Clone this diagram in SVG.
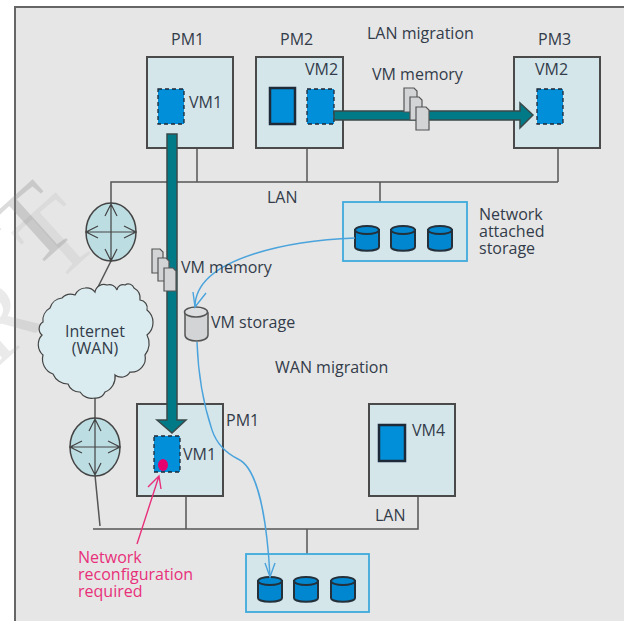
<svg xmlns="http://www.w3.org/2000/svg" width="624" height="621" viewBox="0 0 624 621">
<style>
text{font-family:"Open Sans","Noto Sans","Liberation Sans",sans-serif;font-size:16px;fill:#333c4a}
.box{fill:#d5e6eb;stroke:#4a4a4a;stroke-width:2}
.vm{fill:#008fd8;stroke:#1e2a38;stroke-width:1.3;stroke-dasharray:4 3}
.vms{fill:#008fd8;stroke:#1e2a38;stroke-width:2.5}
.ln{fill:none;stroke:#555;stroke-width:1.5}
.bl{fill:none;stroke:#4aa3dc;stroke-width:1.4}
.st{fill:#d5e6eb;stroke:#3fa9dc;stroke-width:1.8}
.dk{fill:#0087cf;stroke:#24303a;stroke-width:2}
.arrow{fill:#007a87;stroke:#3a4a4a;stroke-width:1.5}
.pg{fill:#d2d4d6;stroke:#555;stroke-width:1.2}
.rt{fill:#bcdde2;stroke:#444;stroke-width:1.5}
.ra{fill:none;stroke:#444;stroke-width:1.2}
.wm{font-family:"Liberation Serif",serif;font-size:105px;fill:#888;text-anchor:end}
.pk{fill:#e8307a}
</style>
<rect x="0" y="0" width="624" height="621" fill="#fff"/>
<rect x="15" y="7" width="620" height="630" fill="#e6e6e6" stroke="#666" stroke-width="2"/>
<text class="wm" style="fill-opacity:.3" transform="translate(80 229) rotate(-42)">T</text>
<text class="wm" style="fill-opacity:.12" transform="translate(103 242) rotate(-42)">T</text>
<text class="wm" style="fill-opacity:.18" transform="translate(48 322) rotate(-42)">R</text>

<g id="wires">
<path class="ln" d="M111 203V182H558M197 148V182M307 148V182M380 182V203M558 148V182"/>
<path class="ln" d="M111 261L96 291"/>
<path class="ln" d="M95 398V418M95 475L100 526"/>
<path class="ln" d="M93 529H418V496M186 496V529M307 529V554"/>
</g>

<g id="pm1-top"><rect class="box" x="147" y="57" width="86" height="91"/><rect class="vm" x="158" y="89" width="26" height="35"/><text x="171" y="45">PM1</text><text x="189" y="108">VM1</text></g>
<g id="pm2"><rect class="box" x="256" y="57" width="87" height="91"/><rect class="vms" x="270" y="88" width="25" height="36"/><rect class="vm" x="307" y="89" width="27" height="35"/><text x="280" y="45">PM2</text><text x="305" y="75">VM2</text></g>
<g id="pm3"><rect class="box" x="514" y="57" width="86" height="91"/><rect class="vm" x="537" y="89" width="26" height="35"/><text x="538" y="45">PM3</text><text x="535" y="75">VM2</text></g>
<g id="pm1-bottom"><rect class="box" x="137" y="404" width="86" height="92"/><rect class="vm" x="154" y="436" width="26" height="36"/><ellipse cx="163" cy="465" rx="5" ry="6" fill="#e6006e"/><text x="226" y="426">PM1</text><text x="183" y="460">VM1</text></g>
<g id="pm4"><rect class="box" x="369" y="404" width="86" height="92"/><rect class="vms" x="379" y="425" width="26" height="36"/><text x="412" y="436">VM4</text></g>

<g id="storage-top"><rect class="st" x="343" y="202" width="124" height="59"/>
<g id="d1"><path class="dk" d="M355 230V247C355 252 379 252 379 247V230Z"/><ellipse class="dk" cx="367" cy="230" rx="12" ry="4"/></g>
<g id="d2"><path class="dk" d="M391 230V247C391 252 415 252 415 247V230Z"/><ellipse class="dk" cx="403" cy="230" rx="12" ry="4"/></g>
<g id="d3"><path class="dk" d="M428 230V247C428 252 452 252 452 247V230Z"/><ellipse class="dk" cx="440" cy="230" rx="12" ry="4"/></g>
<text x="479" y="220">Network<tspan x="479" dy="17">attached</tspan><tspan x="479" dy="17">storage</tspan></text></g>

<g id="storage-bottom"><rect class="st" x="246" y="554" width="123" height="58"/>
<g id="d4"><path class="dk" d="M258 581V598C258 603 282 603 282 598V581Z"/><ellipse class="dk" cx="270" cy="581" rx="12" ry="4"/></g>
<g id="d5"><path class="dk" d="M294 581V598C294 603 318 603 318 598V581Z"/><ellipse class="dk" cx="306" cy="581" rx="12" ry="4"/></g>
<g id="d6"><path class="dk" d="M331 581V598C331 603 355 603 355 598V581Z"/><ellipse class="dk" cx="343" cy="581" rx="12" ry="4"/></g></g>

<g id="vm-storage"><path d="M185 313V335C185 343 208 343 208 335V313Z" fill="#d2d4d6" stroke="#555" stroke-width="1.5"/><ellipse cx="196" cy="312" rx="11.500" ry="5" fill="#dcdedf" stroke="#555" stroke-width="1.5"/><text x="211" y="328">VM storage</text></g>

<g id="router-top"><ellipse class="rt" cx="111" cy="232" rx="25" ry="29"/><path class="ra" d="M111 203V261M86 232H136M105 216L111 204L117 216M105 249L111 261L117 249M98 226L86 232L98 238M124 226L136 232L124 238"/></g>
<g id="router-bottom"><ellipse class="rt" cx="95" cy="447" rx="25" ry="29"/><path class="ra" d="M95 418V476M70 447H120M89 431L95 419L101 431M89 463L95 475L101 463M82 441L70 447L82 453M108 441L120 447L108 453"/></g>

<g id="cloud"><path d="M95 292A9 9 0 0 1 107 285A8 8 0 0 1 117 290A6 6 0 0 1 125 285A6 6 0 0 1 134 288A12 12 0 0 1 140 300A8 8 0 0 1 147 310A16 16 0 0 1 147 335A18 18 0 0 1 145 355A14 14 0 0 1 130 372A10 10 0 0 1 115 375A16 16 0 0 1 105 392A10 10 0 0 1 95 398A14 14 0 0 1 80 392A12 12 0 0 1 68 384A16 16 0 0 1 53 374A16 16 0 0 1 43 355A14 14 0 0 1 42 335A8 8 0 0 1 43 322A14 14 0 0 1 50 308A14 14 0 0 1 62 298A12 12 0 0 1 75 295A12 12 0 0 1 85 288A11 11 0 0 1 95 292Z" fill="#daecf0" stroke="#444" stroke-width="1.2"/><text x="95" y="337" text-anchor="middle">Internet<tspan x="95" dy="17">(WAN)</tspan></text></g>

<g id="migration-arrows">
<path class="arrow" d="M167 134H177V420H186L172 433L157 420H167Z"/>
<path class="arrow" d="M334 111H520V103L533 115L520 128V120H334Z"/>
</g>
<g id="pages-top"><path class="pg" d="M404 88H414L417 91V112H404Z"/><path class="pg" d="M410 97H419L422 100V120H410Z"/><path class="pg" d="M416 107H426L429 110V130H416Z"/></g>
<g id="pages-left"><path class="pg" d="M152 249H160L163 252V273H152Z"/><path class="pg" d="M158 258H166L169 261V281H158Z"/><path class="pg" d="M164 268H173L176 271V291H164Z"/></g>

<g id="connectors">
<path class="bl" d="M355 238C300 240 195 255 195 307"/>
<path class="bl" d="M193 292L195 307L206 293"/>
<path class="bl" d="M197 342C198 370 202 400 212 430C218 448 230 455 238 459C258 468 267 520 270 577"/>
<path class="bl" d="M265 563L270 577L275 563"/>
<path d="M137 544L159 476M148 487L159 476L161 489" fill="none" stroke="#e8307a" stroke-width="1.4"/>
</g>

<g id="labels">
<text x="367" y="39">LAN migration</text>
<text x="372" y="80">VM memory</text>
<text x="267" y="203">LAN</text>
<text x="181" y="273">VM memory</text>
<text x="275" y="373">WAN migration</text>
<text x="375" y="521">LAN</text>
<text class="pk" style="fill:#e8307a" x="78" y="563">Network<tspan x="78" dy="17">reconfiguration</tspan><tspan x="78" dy="17">required</tspan></text>
</g>
</svg>
